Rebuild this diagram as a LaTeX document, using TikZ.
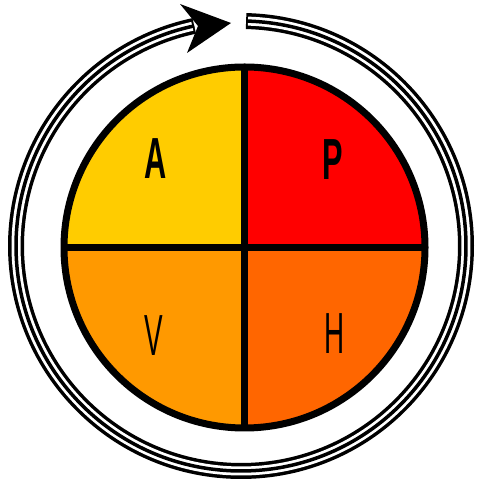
\documentclass[tikz,border=0pt]{standalone}
\usepackage{fontspec}
\setmainfont{Liberation Sans}
\definecolor{qA}{RGB}{255,204,0}
\definecolor{qP}{RGB}{255,0,0}
\definecolor{qV}{RGB}{255,153,0}
\definecolor{qH}{RGB}{255,102,0}
\tikzset{
  boldlbl/.style={inner sep=0pt,font=\fontsize{58}{58}\selectfont\bfseries},
  thinlbl/.style={inner sep=0pt,font=\fontsize{58}{58}\selectfont},
  rim/.style={line width=7pt,draw=black}
}
\begin{document}
\begin{tikzpicture}[x=1pt,y=1pt]
\useasboundingbox (0,0) rectangle (476,486);
\coordinate (c) at (244.5,238.5);
\def\R{180.5}
% quadrants
\fill[qA] (c) -- ++(90:\R) arc[start angle=90,end angle=180,radius=\R] -- cycle;
\fill[qP] (c) -- ++(0:\R) arc[start angle=0,end angle=90,radius=\R] -- cycle;
\fill[qV] (c) -- ++(180:\R) arc[start angle=180,end angle=270,radius=\R] -- cycle;
\fill[qH] (c) -- ++(270:\R) arc[start angle=270,end angle=360,radius=\R] -- cycle;
\draw[rim] (c) ++(0,\R) -- ++(0,-2*\R);
\draw[rim] (c) ++(-\R,0) -- ++(2*\R,0);
\draw[rim] (c) circle[radius=\R];
% labels
\node[boldlbl] (a) at (155.5,327.5) {\scalebox{0.53}[1]{A}};
\node[boldlbl] (p) at (333,326) {\scalebox{0.53}[1]{P}};
\node[thinlbl] (v) at (153.5,150.5) {\scalebox{0.48}[1]{V}};
\node[thinlbl] (h) at (335,152) {\scalebox{0.48}[1]{H}};
% triple ring
\coordinate (o) at (241,240);
\def\RR{225}
\draw[line width=16pt,black] (o) ++(88.7:\RR) arc[start angle=88.7,end angle=-258,radius=\RR];
\draw[line width=9pt,white] (o) ++(88.2:\RR) arc[start angle=88.2,end angle=-257.5,radius=\RR];
\draw[line width=3.5pt,black] (o) ++(88.7:\RR) arc[start angle=88.7,end angle=-258,radius=\RR];
% arrowhead
\fill[black] (231,463) -- (180,482) -- (198,460) -- (187,433) -- cycle;
\end{tikzpicture}
\end{document}
